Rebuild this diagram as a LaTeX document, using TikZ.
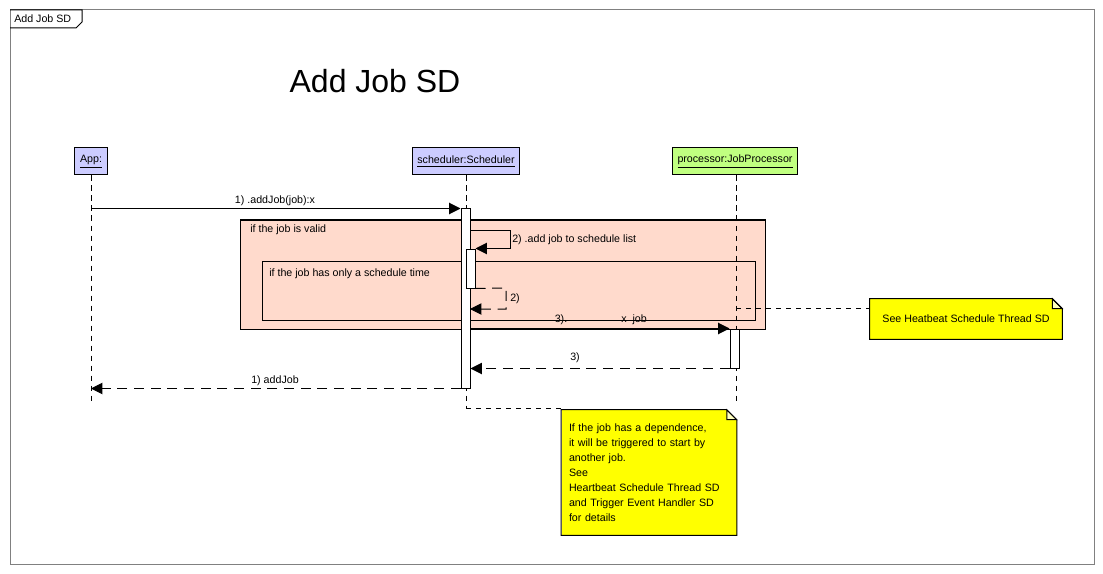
\documentclass[tikz,border=0pt]{standalone}
\usepackage{fontspec}
\setmainfont{Liberation Sans}
\usepackage{tikz}
\usetikzlibrary{arrows.meta}
\usetikzlibrary{positioning}
\definecolor{objblue}{RGB}{204,204,255}
\definecolor{objgreen}{RGB}{192,255,128}
\definecolor{fragpink}{RGB}{255,218,204}
\definecolor{noteyellow}{RGB}{255,255,0}
\definecolor{foldyellow}{RGB}{255,255,190}
\definecolor{framegray}{RGB}{128,128,128}

\tikzset{
  obj/.style={draw, line width=0.75pt, minimum height=20.25pt, inner xsep=4pt},
  lifeline/.style={line width=0.75pt, dash pattern=on 4pt off 3.5pt},
  actbar/.style={draw, fill=white, line width=0.75pt, minimum width=6.75pt, inner sep=0pt},
  frag/.style={draw, line width=0.75pt, inner sep=0pt},
  call/.style={line width=0.75pt, -{Triangle[length=8.5pt,width=8.5pt]}},
  reply/.style={line width=0.75pt, dash pattern=on 7.5pt off 5pt, -{Triangle[length=8.5pt,width=8.5pt]}},
  tie/.style={line width=0.75pt, dash pattern=on 4pt off 3.5pt},
  note/.style={fill=noteyellow, inner sep=0pt},
  lbl/.style={inner sep=0pt}
}

% folded corner of a note
\newcommand{\dogear}[1]{
  \fill[white] ([xshift=-7.5pt]#1.north east) -- (#1.north east) -- ([yshift=-7.5pt]#1.north east) -- cycle;
  \filldraw[fill=foldyellow, line width=0.75pt] ([xshift=-7.5pt]#1.north east) -- ([xshift=-7.5pt,yshift=-7.5pt]#1.north east) -- ([yshift=-7.5pt]#1.north east) -- cycle;
  \draw[line width=0.75pt] (#1.south west) -- (#1.north west) -- ([xshift=-7.5pt]#1.north east) -- ([yshift=-7.5pt]#1.north east) -- (#1.south east) -- cycle;
}

\begin{document}
\begin{tikzpicture}[x=0.75pt, y=-0.75pt, font=\fontsize{8}{10}\selectfont]
\useasboundingbox (0,0) rectangle (1103,574);
\fill[white] (0,0) rectangle (1103,574);

% frame and its tab
\draw[framegray, line width=0.75pt] (10,10) rectangle (1094,564);
\node[lbl, anchor=west] (sdtab) at (14,19) {Add Job SD};
\draw[line width=0.75pt] (10,10) -- (82,10) -- (82,22) -- (76,28) -- (10,28);

\node[lbl] (title) at (375,81) {\fontsize{24}{28}\selectfont Add Job SD};

% objects
\node[obj, fill=objblue] (app) at (91,161.5) {\underline{App:}};
\node[obj, fill=objblue] (sched) at (466,161.5) {\underline{scheduler:Scheduler}};
\node[obj, fill=objgreen] (proc) at (735,161.5) {\underline{processor:JobProcessor}};

% fragments
\node[frag, fill=fragpink, minimum width=393.75pt, minimum height=81.75pt] (validfrag) at (502.5,274.5) {};
\node[lbl, anchor=north west] (validlbl) at (250,225) {if the job is valid};
\node[frag, minimum width=369.75pt, minimum height=44.25pt] (timefrag) at (508.5,290.5) {};
\node[lbl, anchor=north west] (timelbl) at (269,269) {if the job has only a schedule time};

% lifelines
\coordinate (append) at (91,402);
\coordinate (schedend) at (466,408);
\coordinate (procend) at (736,405);
\draw[lifeline] (app.south) -- (append);
\draw[lifeline] (sched.south) -- (schedend);
\draw[lifeline] (proc.south -| procend) -- (procend);

% activation bars
\node[actbar, minimum height=134.25pt] (sbar) at (465.5,298.5) {};
\node[actbar, minimum height=29.25pt] (nbar) at (470.5,268.5) {};
\node[actbar, minimum height=29.25pt] (pbar) at (734.5,348.5) {};

% messages
\draw[call] (app |- sbar.north west) -- (sbar.north west);
\node[lbl] (m1lbl) at (275,201) {1) .addJob(job):x};

\coordinate (selfout) at (470,230);
\coordinate (selfturn) at (510,230);
\draw[call] (selfout) -- (selfturn) |- (nbar.north east);
\node[lbl, anchor=west] (m2lbl) at (512,240) {2) .add job to schedule list};

\coordinate (r2turn) at (506,288);
\coordinate (r2end) at (470,309);
\draw[reply] (nbar.south east) -- (r2turn) |- (r2end);
\node[lbl, anchor=west] (r2lbl) at (510,299) {2)};

\draw[call] (sbar.east |- pbar.north west) -- (pbar.north west);
\node[lbl] (m3lbl) at (561,320) {3).};
\node[lbl] (m3arg) at (634,320) {x\ \ job};

\draw[reply] (pbar.south west) -- (sbar.east |- pbar.south west);
\node[lbl] (r3lbl) at (575,358) {3)};

\draw[reply] (sbar.south west) -- (app |- sbar.south west);
\node[lbl] (r1lbl) at (275,381) {1) addJob};

% notes
\node[note, minimum width=144pt, minimum height=30pt] (hbnote) at (966,319) {See Heatbeat Schedule Thread SD};
\dogear{hbnote}
\coordinate (hbtie) at ([yshift=-7.5pt]hbnote.north west);
\draw[tie] (procend |- hbtie) -- (hbtie);

\node[note, minimum width=131.25pt, minimum height=93.75pt, text width=120pt, align=left, font=\fontsize{8}{11.25}\selectfont] (depnote) at (649,472.5) {If the job has a dependence,\\it will be triggered to start by\\another job.\\See\\Heartbeat Schedule Thread SD\\and Trigger Event Handler SD\\for details};
\dogear{depnote}
\draw[tie] (schedend) -- (schedend -| depnote.north west);
\end{tikzpicture}
\end{document}
